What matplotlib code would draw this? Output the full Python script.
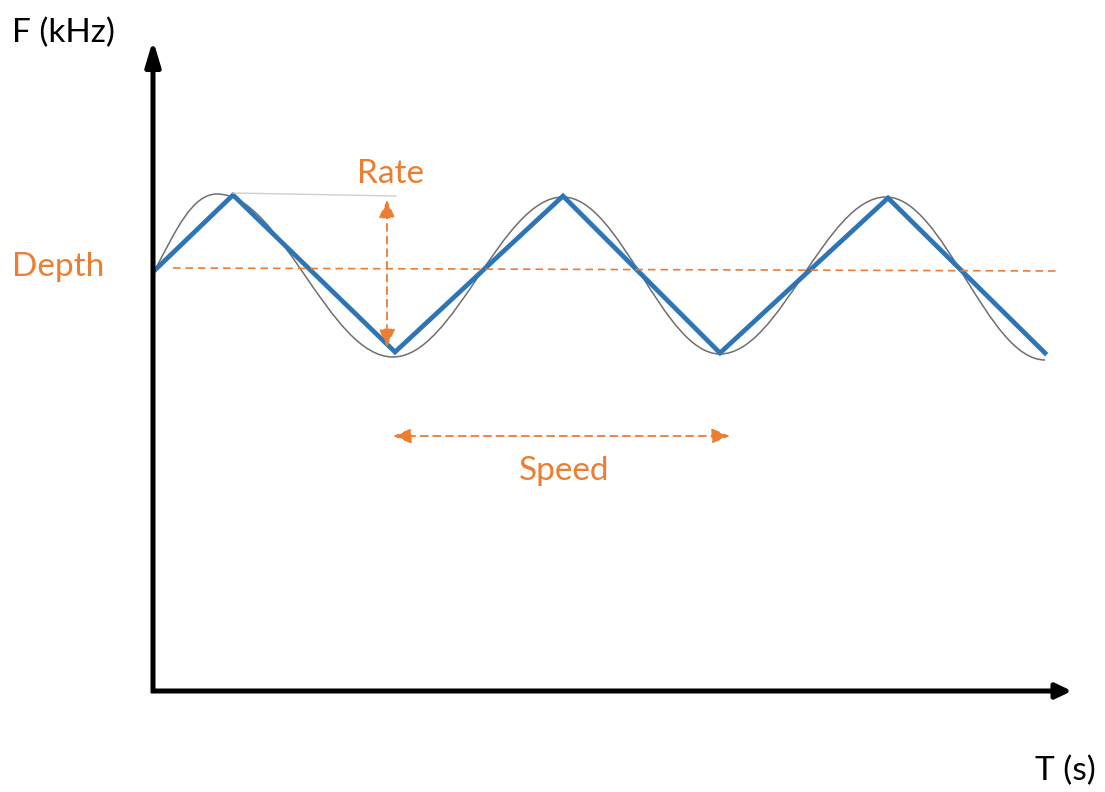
import matplotlib.pyplot as plt
from matplotlib.path import Path
import matplotlib.patches as patches

plt.rcParams['font.family'] = ['Lato', 'DejaVu Sans']

# unites : T en s, F en kHz (schema)
blue_t = [0.02, 0.80, 2.42, 4.10, 5.67, 7.35, 8.92]
blue_f = [4.20, 4.95, 3.38, 4.94, 3.37, 4.92, 3.37]

# sinus gris : depart, puis extremums successifs
sine_t = [0.02, 0.64, 2.40, 4.10, 5.67, 7.33, 8.92]
sine_f = [4.20, 4.96, 3.33, 4.93, 3.36, 4.93, 3.30]

depth_t = [0.20, 9.04]
depth_f = [4.22, 4.19]

rate_t = 2.34
rate_f = [4.90, 3.43]
rate_guide_t = [0.80, 2.43]
rate_guide_f = [4.97, 4.94]

speed_f = 2.54
speed_t = [2.40, 5.77]

t_axis_end = 9.19
f_axis_end = 6.50

orange = '#ED7D31'
blue = '#2E75B6'
fs = 24

fig = plt.figure(figsize=(11.05, 7.92), dpi=100)
ax = fig.add_axes([0, 0, 1, 1])
ax.set_xlim(-1.53, 9.52)
ax.set_ylim(-1.02, 6.90)
ax.axis('off')

# axes noirs avec fleches
ax.annotate('', xy=(0, f_axis_end), xytext=(0, -0.03),
            arrowprops=dict(arrowstyle='-|>,head_length=1.5,head_width=0.45',
                            lw=3.6, color='black', shrinkA=0, shrinkB=0,
                            mutation_scale=10, capstyle='butt'))
ax.annotate('', xy=(t_axis_end, -0.01), xytext=(-0.02, -0.01),
            arrowprops=dict(arrowstyle='-|>,head_length=0.95,head_width=0.45',
                            lw=3.6, color='black', shrinkA=0, shrinkB=0,
                            mutation_scale=10, capstyle='butt'))

# courbe sinus grise (beziers entre extremums)
verts = [(sine_t[0], sine_f[0])]
codes = [Path.MOVETO]
for i in range(len(sine_t) - 1):
    t0, f0 = sine_t[i], sine_f[i]
    t1, f1 = sine_t[i + 1], sine_f[i + 1]
    dt = t1 - t0
    if i == 0:
        c1 = (t0 + dt / 3, f0 + (f1 - f0) * 0.52)
        c2 = (t1 - 0.4 * dt, f1)
    else:
        c1 = (t0 + 0.364 * dt, f0)
        c2 = (t1 - 0.364 * dt, f1)
    verts += [c1, c2, (t1, f1)]
    codes += [Path.CURVE4, Path.CURVE4, Path.CURVE4]
ax.add_patch(patches.PathPatch(Path(verts, codes), fill=False,
                               edgecolor='#6f6f6f', lw=1.1))

# ligne triangle bleue
ax.plot(blue_t, blue_f, color=blue, lw=3.4, solid_joinstyle='miter')

# Depth
ax.plot(depth_t, depth_f, color=orange, lw=1.2, dashes=(4.5, 3))
ax.text(-1.41, 4.23, 'Depth', color=orange, fontsize=fs, ha='left', va='center')

# Rate
ax.plot(rate_guide_t, rate_guide_f, color='#d0d0d0', lw=1.0)
ax.annotate('', xy=(rate_t, rate_f[0]), xytext=(rate_t, rate_f[1]),
            arrowprops=dict(arrowstyle='<|-|>,head_length=1.1,head_width=0.5',
                            lw=1.3, color=orange, linestyle=(0, (4, 3)),
                            shrinkA=0, shrinkB=0, mutation_scale=10))
ax.text(2.37, 5.16, 'Rate', color=orange, fontsize=fs, ha='center', va='center')

# Speed
ax.annotate('', xy=(speed_t[1], speed_f), xytext=(speed_t[0], speed_f),
            arrowprops=dict(arrowstyle='<|-|>,head_length=1.1,head_width=0.45',
                            lw=1.3, color=orange, linestyle=(0, (4, 3)),
                            shrinkA=0, shrinkB=0, mutation_scale=10))
ax.text(4.11, 2.19, 'Speed', color=orange, fontsize=fs, ha='center', va='center')

# titres des axes
ax.text(-1.41, 6.57, 'F (kHz)', color='black', fontsize=fs, ha='left', va='center')
ax.text(9.12, -0.81, 'T (s)', color='black', fontsize=fs, ha='center', va='center')

fig.savefig('out.png', dpi=100)
